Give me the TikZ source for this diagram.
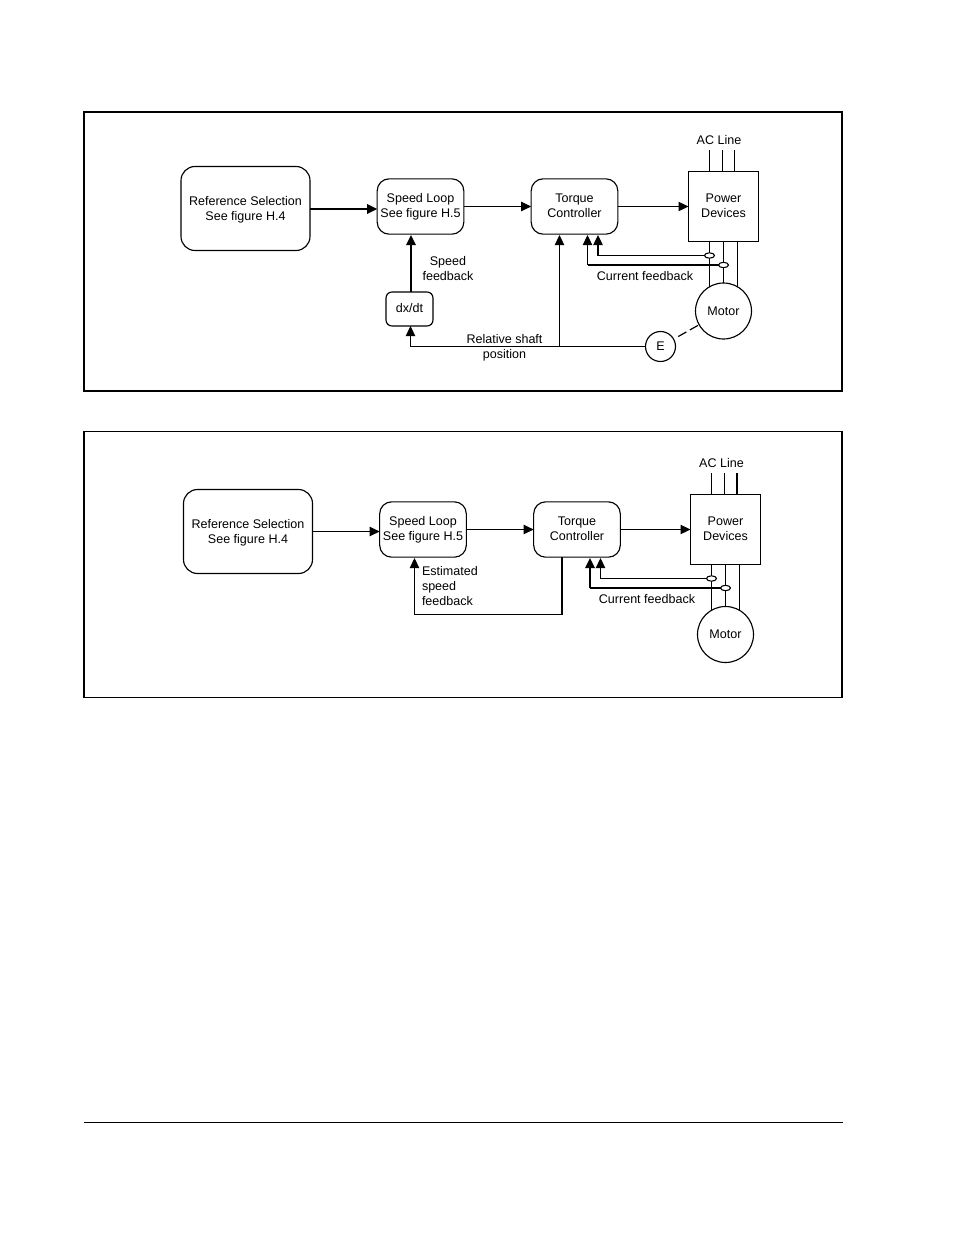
\documentclass[tikz,border=0pt]{standalone}
\usepackage{fontspec}
\setmainfont{Liberation Sans}
\usetikzlibrary{arrows.meta,calc,shapes.geometric}
\newcommand{\nodepth}[1]{\raisebox{0pt}[\height][0pt]{#1}}
\tikzset{
  x=0.75pt,y=-0.75pt,
  every node/.style={inner sep=0pt,outer sep=0pt,font=\fontsize{9.4}{11.25}\selectfont,align=center},
  ln/.style={draw=black,line width=0.75pt},
  thk/.style={draw=black,line width=1.5pt},
  arr/.style={ln,-{Triangle[length=7.5pt,width=7pt]}},
  tarr/.style={thk,-{Triangle[length=7.5pt,width=7pt]}},
  bigbox/.style={draw=black,line width=0.85pt,rounded corners=10.5pt,minimum width=96.75pt,minimum height=63pt},
  midbox/.style={draw=black,line width=0.85pt,rounded corners=9pt,minimum width=65pt,minimum height=41.5pt},
  pwr/.style={ln,minimum width=52.5pt,minimum height=52.5pt},
  dxbox/.style={draw=black,line width=0.85pt,rounded corners=4.5pt,minimum width=35.25pt,minimum height=25.5pt},
  mot/.style={draw=black,line width=0.85pt,circle,minimum size=42pt},
  enc/.style={draw=black,line width=0.85pt,circle,minimum size=22.5pt},
  sens/.style={draw=black,line width=0.8pt,fill=white,ellipse,minimum width=7.5pt,minimum height=4pt}
}
\begin{document}
\begin{tikzpicture}
\useasboundingbox (0,0) rectangle (954,1235);
% --- frames
\node[draw=black,line width=1.1pt,minimum width=568.5pt,minimum height=209.25pt] (frameA) at (463,251.5) {};
\node[draw=black,line width=1.1pt,minimum width=568.5pt,minimum height=199.5pt] (frameB) at (463,564.5) {};
\coordinate (ruleL) at (84,1122.5);
\coordinate (ruleR) at (843,1122.5);
\draw[ln] (ruleL) -- (ruleR);

% --- upper panel
\node[bigbox] (refA) at (245.5,208.5) {Reference Selection\\\nodepth{See figure H.4}};
\node[midbox] (spdA) at (420.5,206.5) {Speed Loop\\See figure H.5};
\node[midbox] (torA) at (574.5,206.5) {Torque\\Controller\vphantom{p}};
\node[pwr,line width=1.3pt] (powA) at (723.5,206.5) {Power\\Devices\vphantom{p}};
\node[mot] (motA) at (723.5,311) {Motor};
\node[enc] (encA) at (660.5,346.5) {E};
\node[dxbox] (dxA) at (409.5,309) {\raisebox{1pt}{dx/dt}};
\node (acA) at (719,140) {AC Line};
\node (sfA) at (448,269) {Speed\\feedback};
\node (cfA) at (645,276) {Current feedback};
\node (rsA) at (504.5,347.5) {Relative shaft\\position};
\coordinate (acA1) at (709.5,150);
\coordinate (acA2) at (722.5,150);
\coordinate (acA3) at (734.5,150);
\draw[ln] (acA1) -- (acA1 |- powA.north);
\draw[ln] (acA2) -- (acA2 |- powA.north);
\draw[ln] (acA3) -- (acA3 |- powA.north);
\draw[ln] (motA.120 |- powA.south) -- (motA.120);
\draw[ln] (motA.90 |- powA.south) -- (motA.90);
\draw[ln] (motA.60 |- powA.south) -- (motA.60);
\node[sens] (seA1) at (709.5,255.5) {};
\node[sens] (seA2) at (723.5,265) {};
\coordinate (inA1) at (598,235);
\coordinate (inA2) at (587.5,235);
\coordinate (inA3) at (559.5,235);
\coordinate (inA4) at (411,235);
\coordinate (inA5) at (410.5,326);
\coordinate (outA) at (310,209);
\coordinate (jnA) at (559.5,346.5);
\draw[tarr] (outA) -- (outA -| spdA.west);
\draw[arr] (spdA.east) -- (torA.west);
\draw[arr] (torA.east) -- (torA.east -| powA.west);
\draw[tarr] (dxA.north -| inA4) -- (inA4);
\draw[ln] (encA.west) -- (jnA);
\draw[arr] (jnA) -- (jnA -| inA5) -- (inA5);
\draw[arr] (jnA) -- (inA3);
\draw[arr,line width=1pt] (seA1.west) -- (seA1.west -| inA1) -- (inA1);
\draw[thk] (seA2.west) -- (seA2.west -| inA2);
\draw[arr] (seA2.west -| inA2) -- (inA2);
\draw[draw=black,line width=0.9pt,dash pattern=on 7pt off 3pt,shorten <=4pt] (encA) -- (motA);

% --- lower panel
\node[bigbox] (refB) at (248,531.5) {Reference Selection\\\nodepth{See figure H.4}};
\node[midbox] (spdB) at (423,529.5) {Speed Loop\\See figure H.5};
\node[midbox] (torB) at (577,529.5) {Torque\\Controller\vphantom{p}};
\node[pwr] (powB) at (725.5,529.5) {Power\\Devices\vphantom{p}};
\node[mot] (motB) at (725.5,634.5) {Motor};
\node (acB) at (721.5,463) {AC Line};
\node[align=left,anchor=west] (esB) at (422,586) {Estimated\\speed\\feedback};
\node (cfB) at (647,599) {Current feedback};
\coordinate (acB1) at (711.5,473);
\coordinate (acB2) at (724.5,473);
\coordinate (acB3) at (737,473);
\draw[ln] (acB1) -- (acB1 |- powB.north);
\draw[ln] (acB2) -- (acB2 |- powB.north);
\draw[thk] (acB3) -- (acB3 |- powB.north);
\draw[ln] (motB.120 |- powB.south) -- (motB.120);
\draw[ln] (motB.90 |- powB.south) -- (motB.90);
\draw[ln] (motB.60 |- powB.south) -- (motB.60);
\node[sens] (seB1) at (711.5,578.5) {};
\node[sens] (seB2) at (725.5,588) {};
\coordinate (inB1) at (600.5,558);
\coordinate (inB2) at (590,558);
\coordinate (inB4) at (414.5,558);
\coordinate (outB) at (562,557);
\coordinate (cnB) at (562,614.5);
\draw[arr] (refB.east) -- (refB.east -| spdB.west);
\draw[arr] (spdB.east) -- (torB.west);
\draw[arr] (torB.east) -- (powB.west);
\draw[arr] (seB1.west) -- (seB1.west -| inB1) -- (inB1);
\draw[thk] (seB2.west) -- (seB2.west -| inB2);
\draw[tarr] (seB2.west -| inB2) -- (inB2);
\draw[thk] (outB) -- (cnB);
\draw[arr] (cnB) -- (cnB -| inB4) -- (inB4);
\end{tikzpicture}
\end{document}
